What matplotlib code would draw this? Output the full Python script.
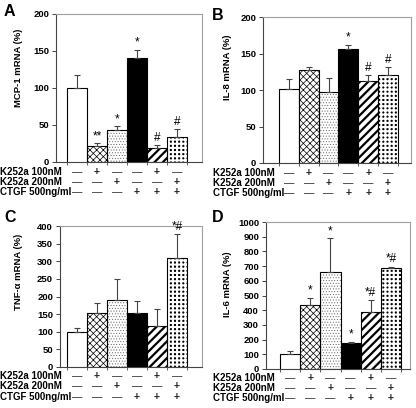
import matplotlib
matplotlib.use('Agg')
import matplotlib.pyplot as plt
import matplotlib.transforms as mtransforms
import numpy as np

plt.rcParams['font.family'] = ['Liberation Sans', 'DejaVu Sans']
plt.rcParams['font.weight'] = 'bold'

# ---- data ----
row_labels = ['K252a 100nM', 'K252a 200nM', 'CTGF 500ng/ml']
treat_k100 = ['—', '+', '—', '—', '+', '—']
treat_k200 = ['—', '—', '+', '—', '—', '+']
treat_ctgf = ['—', '—', '—', '+', '+', '+']

mcp1_mean = [100, 21, 43, 140, 19, 34]
mcp1_err = [17, 4, 5, 11, 4, 10]
mcp1_sig = ['', '**', '*', '*', '#', '#']

il8_mean = [101, 127, 97, 156, 112, 121]
il8_err = [14, 5, 20, 6, 8, 10]
il8_sig = ['', '', '', '*', '#', '#']

tnf_mean = [100, 152, 189, 152, 117, 309]
tnf_err = [10, 30, 61, 34, 48, 67]
tnf_sig = ['', '', '', '', '', '*#']

il6_mean = [100, 432, 660, 175, 385, 685]
il6_err = [20, 50, 228, 8, 85, 12]
il6_sig = ['', '*', '*', '*', '*#', '*#']

W, H = 416, 408
fig = plt.figure(figsize=(W / 100, H / 100), dpi=100)

styles = [
    dict(face='white', hatch=None, hc='black', hlw=0.5),
    dict(face='white', hatch='xxxxx', hc='black', hlw=0.5),
    dict(face='white', hatch='......', hc='#666666', hlw=0.4),
    dict(face='black', hatch=None, hc='black', hlw=0.5),
    dict(face='white', hatch='////', hc='black', hlw=1.6),
    dict(face='black', hatch='++++', hc='white', hlw=1.5),
]

panels = [
    dict(letter='A', letter_xy=(9, 12), rect=(56, 14, 202, 162), ymax=200, step=50,
         label='MCP-1 mRNA (%)', lab=(23, 68), xlim=(-1.05, 6.25),
         mean=mcp1_mean, err=mcp1_err, sig=mcp1_sig, rows_y=(172, 182, 192), rows_x=0),
    dict(letter='B', letter_xy=(218, 16), rect=(263, 17, 411, 163), ymax=200, step=50,
         label='IL-8 mRNA (%)', lab=(232, 67), xlim=(-1.31, 6.16),
         mean=il8_mean, err=il8_err, sig=il8_sig, rows_y=(173, 183, 193), rows_x=213),
    dict(letter='C', letter_xy=(10, 218), rect=(60, 226, 202, 367), ymax=400, step=50,
         label='TNF-α mRNA (%)', lab=(23, 272), xlim=(-0.85, 6.25),
         mean=tnf_mean, err=tnf_err, sig=tnf_sig, rows_y=(376, 386, 397), rows_x=0),
    dict(letter='D', letter_xy=(218, 218), rect=(266, 222, 410, 369), ymax=1000, step=100,
         label='IL-6 mRNA (%)', lab=(232, 284), xlim=(-1.2, 5.95),
         mean=il6_mean, err=il6_err, sig=il6_sig, rows_y=(378, 388, 398), rows_x=213),
]

treatments = [treat_k100, treat_k200, treat_ctgf]

for p in panels:
    L, T, R, B = p['rect']
    ax = fig.add_axes([L / W, 1 - B / H, (R - L) / W, (B - T) / H])
    x = np.arange(len(p['mean']))
    for i, (m, e) in enumerate(zip(p['mean'], p['err'])):
        st = styles[i]
        if st['hatch']:
            with plt.rc_context({'hatch.linewidth': st['hlw']}):
                ax.bar(x[i], m, width=1.0, color=st['face'], edgecolor=st['hc'],
                       hatch=st['hatch'], linewidth=0, zorder=2)
            ax.bar(x[i], m, width=1.0, color='none', edgecolor='black', linewidth=0.8, zorder=3)
        else:
            ax.bar(x[i], m, width=1.0, color=st['face'], edgecolor='black', linewidth=0.8, zorder=3)
        ax.errorbar(x[i], m, yerr=[[0], [e]], fmt='none', ecolor='#444444',
                    elinewidth=0.8, capsize=2.5, capthick=0.8, zorder=4)
        if p['sig'][i]:
            ax.annotate(p['sig'][i], (x[i], m + e), xytext=(0, 1), textcoords='offset points',
                        ha='center', va='bottom', fontsize=8.5, fontweight='normal')
    ax.set_xlim(*p['xlim'])
    ax.set_ylim(0, p['ymax'])
    ax.set_yticks(np.arange(0, p['ymax'] + 1, p['step']))
    ax.set_xticks(np.arange(-0.5, len(p['mean']) + 0.5, 1.0))
    ax.set_xticklabels([])
    ax.tick_params(axis='y', labelsize=6.8, length=3, width=0.7, color='#444444', pad=2)
    ax.tick_params(axis='x', length=2, width=0.6, color='#444444')
    for lbl in ax.get_yticklabels():
        lbl.set_fontweight('bold')
    for s in ['top', 'right']:
        ax.spines[s].set_color('#a0a0a0')
        ax.spines[s].set_linewidth(0.8)
    for s in ['left', 'bottom']:
        ax.spines[s].set_color('#444444')
        ax.spines[s].set_linewidth(0.8)
    ax.set_ylabel(p['label'], fontsize=6.8, fontweight='bold')
    lx, ly = p['lab']
    ax.yaxis.set_label_coords((lx - L) / (R - L), (B - ly) / (B - T))

    fig.text(p['letter_xy'][0] / W, 1 - p['letter_xy'][1] / H, p['letter'],
             fontsize=11.5, fontweight='bold', ha='center', va='center')
    trans = mtransforms.blended_transform_factory(ax.transData, fig.transFigure)
    for r, (name, ypx) in enumerate(zip(row_labels, p['rows_y'])):
        fig.text(p['rows_x'] / W, 1 - ypx / H, name, fontsize=7, fontweight='bold',
                 ha='left', va='center')
        for i, sym in enumerate(treatments[r]):
            ax.text(x[i], 1 - ypx / H, sym, transform=trans, fontsize=7.5,
                    fontweight='bold' if sym == '+' else 'normal',
                    ha='center', va='center', color='#222222')

fig.savefig('out.png', dpi=100)
